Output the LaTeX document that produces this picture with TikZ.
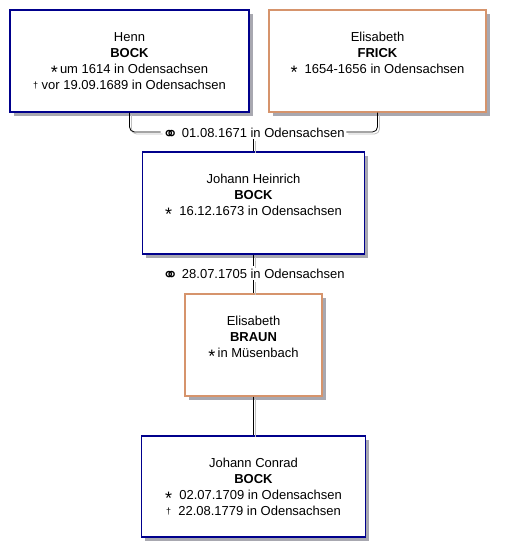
\documentclass[tikz,border=0pt]{standalone}
\usepackage{fontspec}
\setmainfont{Liberation Sans}
\newfontfamily\symfont{DejaVu Sans}
\usepackage{xcolor}
\definecolor{manblue}{RGB}{0,0,140}
\definecolor{womanorange}{RGB}{214,148,108}
\definecolor{shadowgray}{RGB}{168,168,176}
\usetikzlibrary{positioning,shadows}
\newcommand{\born}{\raisebox{-0.75ex}[1.2ex][0pt]{\fontsize{18}{18}\selectfont *}}
\newcommand{\died}{\raisebox{0.1ex}[1.5ex][0pt]{\small †}}
\newcommand{\marr}{\raisebox{-0.45ex}[1.5ex][0pt]{\symfont\fontsize{19}{16}\selectfont ⚭}}
\tikzset{
  person/.style={draw, line width=1.1pt, fill=white, align=center, minimum height=102pt,
    inner sep=0pt, font=\fontsize{13}{16}\selectfont,
    general shadow={shadow xshift=3.5pt, shadow yshift=-3.5pt, fill=shadowgray}},
  man/.style={person, draw=manblue},
  woman/.style={person, draw=womanorange},
  wedding/.style={inner sep=1.5pt, fill=white, font=\fontsize{13}{16}\selectfont},
  link/.style={line width=0.8pt},
  linkshade/.style={line width=0.8pt, draw=gray!50, transform canvas={xshift=2pt, yshift=-2pt}}
}

\begin{document}
\begin{tikzpicture}[x=1pt, y=-1pt]
    \useasboundingbox (0,0) rectangle (506,558);

    % Parents
    \node[man, minimum width=239pt] (henn) at (129.5,61)
        {Henn\\\textbf{BOCK}\\\born\,um 1614 in Odensachsen\\\died\ vor 19.09.1689 in Odensachsen};
    \node[woman, minimum width=217pt] (frick) at (377.5,61)
        {Elisabeth\\\textbf{FRICK}\\\born\ \ 1654-1656 in Odensachsen\\\mbox{}};
    \node[wedding] (m1) at (253.5,132) {\marr\ 01.08.1671 in Odensachsen};

    % Son and his wife
    \node[man, minimum width=222pt] (heinrich) at (253.5,203)
        {Johann Heinrich\\\textbf{BOCK}\\\born\ \ 16.12.1673 in Odensachsen\\\mbox{}};
    \node[wedding] (m2) at (253.5,273) {\marr\ 28.07.1705 in Odensachsen};
    \node[woman, minimum width=137pt] (braun) at (253.5,345)
        {Elisabeth\\\textbf{BRAUN}\\\born\,in Müsenbach\\\mbox{}};

    % Grandson
    \node[man, minimum width=224pt, minimum height=101pt] (conrad) at (253.5,486.5)
        {Johann Conrad\\\textbf{BOCK}\\\born\ \ 02.07.1709 in Odensachsen\\\died\ \ 22.08.1779 in Odensachsen};

    % Lines (grey copy first, then black)
    \foreach \look in {linkshade, link} {
        \draw[\look, rounded corners=5pt] (henn.south) |- (m1.west);
        \draw[\look, rounded corners=5pt] (frick.south) |- (m1.east);
        \draw[\look] (m1.south) -- (heinrich.north);
        \draw[\look] (heinrich.south) -- (m2.north);
        \draw[\look] (m2.south) -- (braun.north);
        \draw[\look] (braun.south) -- (conrad.north);
    }
\end{tikzpicture}
\end{document}
